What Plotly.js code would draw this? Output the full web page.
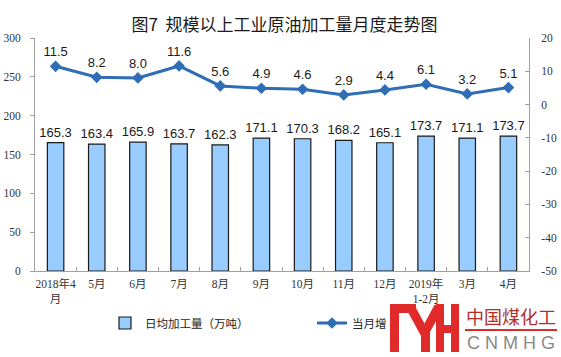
<!DOCTYPE html>
<html><head><meta charset="utf-8">
<script src="https://cdn.plot.ly/plotly-3.0.1.min.js"></script>
<style>html,body{margin:0;padding:0;background:#fff}#chart{width:561px;height:357px}</style>
</head><body><div id="chart"></div>
<script>
const categories = ["2018年4<br>月","5月","6月","7月","8月","9月","10月","11月","12月","2019年<br>1-2月","3月","4月"];
const dailyOutput = [165.3,163.4,165.9,163.7,162.3,171.1,170.3,168.2,165.1,173.7,171.1,173.7];
const monthlyGrowth = [11.5,8.2,8.0,11.6,5.6,4.9,4.6,2.9,4.4,6.1,3.2,5.1];
const leftTicks = [0,50,100,150,200,250,300];
const rightTickVals = [-50,-40,-30,-20,-10,0,10,20];
const rightTickText = ["-50","-40","-30","-20","-10","0","10","20"];
const seriesNames = ["日均加工量（万吨）","当月增速（%）"];
const titleText = "图7\u00a0\u00a0规模以上工业原油加工量月度走势图";
const logoName = "中国煤化工";
const logoLatin = "C N M H G";

const W = 561, H = 357;
const M = {l:35, r:32, t:38, b:86};
const PW = W - M.l - M.r, PH = H - M.t - M.b;
function px(x){ return (x - M.l) / PW; }
function py(y){ return (H - M.b - y) / PH; }

const RED = "#e12a2a";
function rect(x0,y0,x1,y1,color){
  return {xref:'paper',yref:'paper',x:px((x0+x1)/2),y:py((y0+y1)/2),xanchor:'center',yanchor:'middle',
    width:x1-x0,height:y1-y0,text:' ',bgcolor:color,borderpad:0,borderwidth:0,showarrow:false,font:{size:4}};
}
function bar(xa,ya,xb,yb,th,color){
  const dx=xb-xa, dy=yb-ya, len=Math.sqrt(dx*dx+dy*dy);
  const ang=Math.atan2(dy,dx)*180/Math.PI;
  return {xref:'paper',yref:'paper',x:px((xa+xb)/2),y:py((ya+yb)/2),xanchor:'center',yanchor:'middle',
    width:len,height:th,text:' ',bgcolor:color,borderpad:0,borderwidth:0,showarrow:false,textangle:ang,font:{size:4}};
}
const logoAnn = [
  rect(386,306,561,357,'#ffffff'),
  rect(390,304,399,352,RED),
  rect(390,304,416,313,RED),
  bar(411,307,425,333,9,RED),
  bar(439,307,425,333,9,RED),
  rect(421,328,430,352,RED),
  rect(436,304,444,352,RED),
  rect(444,325,452,333,RED),
  rect(451,304,459,352,RED),
  rect(465,329,557,331,RED),
  {xref:'paper',yref:'paper',x:px(511),y:py(316),xanchor:'center',yanchor:'middle',text:logoName,showarrow:false,
    font:{family:'Noto Sans CJK SC',size:18,color:'#b0302c'}},
  {xref:'paper',yref:'paper',x:px(511),y:py(343),xanchor:'center',yanchor:'middle',text:logoLatin,showarrow:false,
    font:{family:'Liberation Sans',size:18,color:'#8a8a8a'}}
];

const labelFont = {family:'Liberation Sans, Arial, sans-serif', size:13, color:'#1a1a1a'};
const tickFont = {family:'Liberation Serif, Noto Sans CJK SC, serif', size:11.5, color:'#333'};

const traces = [
  {type:'bar', x:categories, y:dailyOutput, name:seriesNames[0],
   marker:{color:'#99ccff', line:{color:'#1a1a1a', width:1.2}},
   texttemplate:'%{y:.1f}', textposition:'outside', textfont:labelFont, constraintext:'none', cliponaxis:false},
  {type:'scatter', x:categories, y:monthlyGrowth, yaxis:'y2', name:seriesNames[1],
   mode:'lines+markers+text', texttemplate:'%{y:.1f}', textposition:'top center', textfont:labelFont,
   line:{color:'#2f6db5', width:3}, marker:{symbol:'diamond', size:9, color:'#2f6db5'}, cliponaxis:false}
];

const axisCommon = {showgrid:false, zeroline:false, showline:true, linecolor:'#a0a0a0', linewidth:1,
  tickcolor:'#a0a0a0', ticklen:4, tickfont:tickFont};

const layout = {
  width:W, height:H, margin:M, paper_bgcolor:'#fff', plot_bgcolor:'#fff',
  title:{text:titleText, x:0.507, xref:'container', y:1-25/H, yref:'container', xanchor:'center', yanchor:'middle',
    font:{family:'Noto Sans CJK SC', size:17, color:'#1a1a1a'}},
  bargap:0.6,
  xaxis:Object.assign({}, axisCommon, {type:'category', range:[-0.5,11.5], ticks:'inside', tickson:'boundaries',
    tickangle:0, ticklabelstandoff:2}),
  yaxis:Object.assign({}, axisCommon, {range:[0,300], tickvals:leftTicks, ticks:'outside', ticklabelstandoff:7}),
  yaxis2:Object.assign({}, axisCommon, {range:[-50,20], overlaying:'y', side:'right', tickvals:rightTickVals,
    ticktext:rightTickText, ticks:'inside', ticklabelstandoff:9}),
  showlegend:true,
  legend:{orientation:'h', x:px(105), xanchor:'left', y:py(323), yanchor:'middle', entrywidth:162,
    bgcolor:'rgba(0,0,0,0)', font:{family:'Noto Sans CJK SC', size:11.5, color:'#222'}},
  annotations:logoAnn
};

Plotly.newPlot('chart', traces, layout, {staticPlot:true, displayModeBar:false});
</script>
</body></html>
